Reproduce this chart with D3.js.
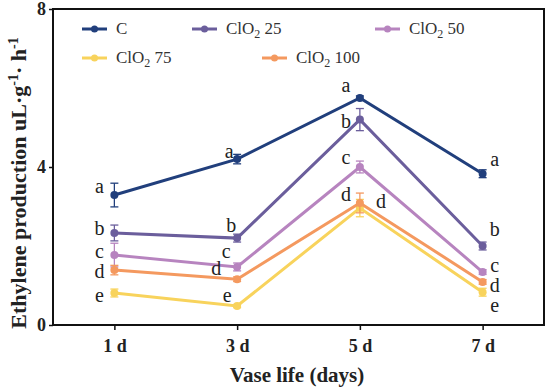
<!DOCTYPE html>
<html><head><meta charset="utf-8">
<script src="https://cdn.jsdelivr.net/npm/d3@7"></script>
<style>body{margin:0;background:#fff}svg{display:block}</style>
</head><body>
<script>
const days = ["1 d","3 d","5 d","7 d"];
const seriesNames = ["C","ClO2 25","ClO2 50","ClO2 75","ClO2 100"];
const colors = ["#213f7c","#6b5e9c","#b784bf","#f8d35c","#f4995f"];
const valC    = [3.29,4.2,5.75,3.83];
const val25   = [2.33,2.2,5.2,2.0];
const val50   = [1.77,1.47,4.0,1.34];
const val75   = [0.81,0.48,2.96,0.83];
const val100  = [1.39,1.16,3.09,1.09];
const errC    = [0.3,0.12,0.05,0.1];
const err25   = [0.2,0.1,0.28,0.1];
const err50   = [0.3,0.1,0.15,0.06];
const err75   = [0.1,0.04,0.22,0.1];
const err100  = [0.12,0.06,0.25,0.06];
const lettersC   = ["a","a","a","a"];
const letters25  = ["b","b","b","b"];
const letters50  = ["c","c","c","c"];
const letters75  = ["e","e","d","e"];
const letters100 = ["d","d","d","d"];
const yTicks = [0,4,8];

const values = [valC,val25,val50,val75,val100];
const errs = [errC,err25,err50,err75,err100];
const letters = [lettersC,letters25,letters50,letters75,letters100];

const W=550,H=389;
const L=53,R=544,T=9,B=325;
const svg=d3.select("body").append("svg").attr("width",W).attr("height",H);
const x=d3.scalePoint().domain(days).range([L,R]).padding(0.5);
const y=d3.scaleLinear().domain([0,8]).range([B,T]);
const serif="Liberation Serif, Times New Roman, serif";

// frame
svg.append("rect").attr("x",L).attr("y",T).attr("width",R-L).attr("height",B-T)
  .attr("fill","none").attr("stroke","#111").attr("stroke-width",2);

// axes
const xAx=svg.append("g").attr("transform",`translate(0,${B})`)
  .call(d3.axisBottom(x).tickSize(5).tickPadding(9));
xAx.select(".domain").remove();
xAx.selectAll("line").attr("stroke","#111").attr("stroke-width",1.5);
xAx.selectAll("text").attr("font-family",serif).attr("font-weight","bold").attr("font-size",18).attr("fill","#222");

const yAx=svg.append("g").attr("transform",`translate(${L},0)`)
  .call(d3.axisLeft(y).tickValues(yTicks).tickSize(4).tickPadding(3));
yAx.select(".domain").remove();
yAx.selectAll("line").attr("stroke","#111").attr("stroke-width",1.5);
yAx.selectAll("text").attr("font-family",serif).attr("font-weight","bold").attr("font-size",18).attr("fill","#222");

// titles
svg.append("text").attr("x",297).attr("y",382).attr("text-anchor","middle")
  .attr("font-family",serif).attr("font-weight","bold").attr("font-size",21).attr("fill","#222")
  .text("Vase life (days)");
const yt=svg.append("text").attr("transform",`translate(26,183) rotate(-90)`)
  .attr("text-anchor","middle").attr("font-family",serif).attr("font-weight","bold")
  .attr("font-size",22).attr("fill","#222");
yt.append("tspan").text("Ethylene production uL·g");
yt.append("tspan").attr("dy",-8).attr("font-size",14).text("-1");
yt.append("tspan").attr("dy",8).text("· h");
yt.append("tspan").attr("dy",-8).attr("font-size",14).text("-1");

// series
const line=d3.line().x((d,i)=>x(days[i])).y(d=>y(d));
values.forEach((vals,s)=>{
  const g=svg.append("g");
  vals.forEach((v,i)=>{
    const e=errs[s][i], cx=x(days[i]);
    g.append("line").attr("x1",cx).attr("x2",cx).attr("y1",y(v-e)).attr("y2",y(v+e))
      .attr("stroke",colors[s]).attr("stroke-width",1.3);
    [v-e,v+e].forEach(w=>g.append("line").attr("x1",cx-4).attr("x2",cx+4).attr("y1",y(w)).attr("y2",y(w))
      .attr("stroke",colors[s]).attr("stroke-width",1.3));
  });
  g.append("path").datum(vals).attr("d",line).attr("fill","none")
    .attr("stroke",colors[s]).attr("stroke-width",3);
  g.selectAll("circle").data(vals).join("circle").attr("cx",(d,i)=>x(days[i])).attr("cy",d=>y(d))
    .attr("r",4).attr("fill",colors[s]);
});

// letter label offsets per series per day
const off = [
  [[-15,-7],[-8,-6],[-14,-10],[12,-12]],
  [[-15,-3],[-6,-11],[-14,4],[12,-15]],
  [[-15,-2],[-11,-14],[-14,-8],[12,-5]],
  [[-15,4],[-10,-9],[21,-5],[12,15]],
  [[-15,3],[-21,-9],[-14,-7],[12,5]]
];
values.forEach((vals,s)=>{
  vals.forEach((v,i)=>{
    svg.append("text").attr("x",x(days[i])+off[s][i][0]).attr("y",y(v)+off[s][i][1])
      .attr("text-anchor","middle").attr("dominant-baseline","middle")
      .attr("font-family",serif).attr("font-size",20).attr("fill","#222")
      .text(letters[s][i]);
  });
});

// legend
const legPos=[[82,29],[192,29],[375,29],[82,58],[262,58]];
seriesNames.forEach((n,s)=>{
  const [lx,ly]=legPos[s];
  svg.append("line").attr("x1",lx).attr("x2",lx+25).attr("y1",ly).attr("y2",ly)
    .attr("stroke",colors[s]).attr("stroke-width",3);
  svg.append("circle").attr("cx",lx+12.5).attr("cy",ly).attr("r",3.5).attr("fill",colors[s]);
  const t=svg.append("text").attr("x",lx+34).attr("y",ly+5).attr("font-family",serif)
    .attr("font-size",17).attr("fill","#333");
  if(n.startsWith("ClO2")){
    t.append("tspan").text("ClO");
    t.append("tspan").attr("dy",4).attr("font-size",12).text("2");
    t.append("tspan").attr("dy",-4).text(" "+n.slice(5));
  } else t.text(n);
});
</script>
</body></html>
